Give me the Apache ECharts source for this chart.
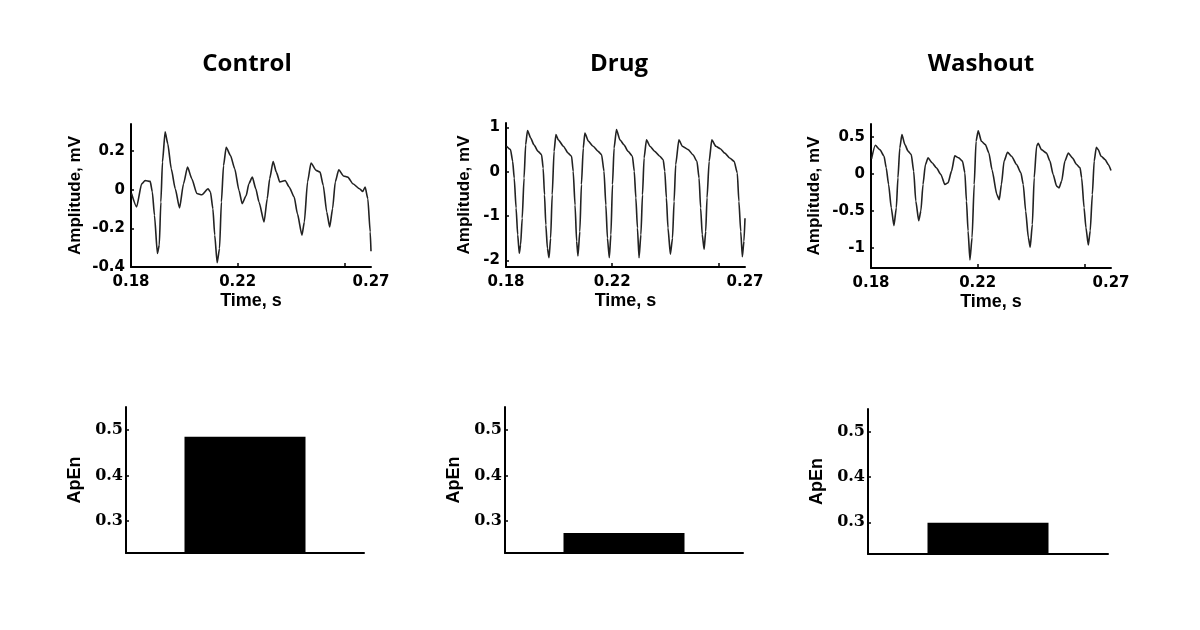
<!DOCTYPE html>
<html>
<head>
<meta charset="utf-8">
<script src="https://cdn.jsdelivr.net/npm/echarts@6/dist/echarts.min.js"></script>
<style>
html,body{margin:0;padding:0;background:#fff;}
#chart{width:1200px;height:630px;}
</style>
</head>
<body>
<div id="chart"></div>
<script>
// ---- Data ----
const panelTitles = ['Control', 'Drug', 'Washout'];

const ctrlTime = [0.1802,0.1821,0.1840,0.1853,0.1872,0.1880,0.1888,0.1899,0.1906,0.1912,0.1918,0.1928,0.1938,0.1951,0.1966,0.1982,0.1997,0.2012,0.2028,0.2047,0.2066,0.2089,0.2098,0.2107,0.2114,0.2123,0.2132,0.2139,0.2147,0.2157,0.2173,0.2189,0.2205,0.2217,0.2232,0.2242,0.2255,0.2268,0.2280,0.2299,0.2311,0.2320,0.2333,0.2345,0.2358,0.2378,0.2393,0.2412,0.2424,0.2441,0.2450,0.2462,0.2475,0.2494,0.2509,0.2521,0.2534,0.2545,0.2556,0.2566,0.2579,0.2597,0.2613,0.2632,0.2657,0.2669,0.2678,0.2688,0.2697,0.2700];
const ctrlAmp = [-0.02,-0.089,0.03,0.048,0.043,-0.012,-0.132,-0.33,-0.287,-0.064,0.143,0.30,0.237,0.108,0.005,-0.094,0.031,0.117,0.057,-0.02,-0.026,0.005,-0.012,-0.098,-0.235,-0.378,-0.304,-0.064,0.125,0.22,0.177,0.108,-0.004,-0.072,-0.03,0.031,0.065,0.005,-0.064,-0.167,-0.046,0.057,0.146,0.091,0.040,0.048,0.014,-0.038,-0.124,-0.235,-0.167,0.040,0.138,0.10,0.091,0.022,-0.115,-0.193,-0.098,0.040,0.103,0.071,0.065,0.031,0.005,-0.009,0.014,-0.046,-0.218,-0.318];

const drugTime = [0.1802,0.1817,0.1825,0.1831,0.1838,0.1844,0.1850,0.1855,0.1861,0.1868,0.1874,0.1881,0.1893,0.1905,0.1921,0.1934,0.1940,0.1945,0.1950,0.1956,0.1962,0.1968,0.1974,0.1981,0.1988,0.1997,0.2016,0.2034,0.2047,0.2053,0.2060,0.2066,0.2071,0.2078,0.2084,0.2091,0.2097,0.2110,0.2128,0.2147,0.2160,0.2169,0.2176,0.2182,0.2189,0.2195,0.2201,0.2207,0.2216,0.2229,0.2244,0.2260,0.2276,0.2283,0.2289,0.2295,0.2301,0.2308,0.2314,0.2320,0.2329,0.2342,0.2360,0.2379,0.2392,0.2398,0.2404,0.2410,0.2419,0.2427,0.2433,0.2439,0.2451,0.2464,0.2486,0.2504,0.2519,0.2527,0.2533,0.2539,0.2546,0.2552,0.2557,0.2565,0.2575,0.2590,0.2607,0.2624,0.2642,0.2659,0.2671,0.2677,0.2684,0.2690,0.2696,0.2700];
const drugAmp = [0.574,0.50,0.235,-0.14,-0.82,-1.42,-1.84,-1.65,-1.05,-0.14,0.61,0.93,0.76,0.61,0.46,0.385,0.08,-0.52,-1.20,-1.73,-1.94,-1.50,-0.52,0.46,0.84,0.72,0.575,0.42,0.35,0.01,-0.75,-1.57,-1.90,-1.35,-0.29,0.535,0.875,0.69,0.575,0.46,0.385,0.01,-0.75,-1.50,-1.94,-1.42,-0.29,0.535,0.95,0.72,0.61,0.46,0.35,0.01,-0.59,-1.27,-1.94,-1.42,-0.52,0.31,0.72,0.575,0.46,0.35,0.27,0.01,-0.59,-1.27,-1.86,-1.50,-0.67,0.16,0.72,0.575,0.50,0.385,0.235,-0.14,-0.82,-1.42,-1.75,-1.35,-0.59,0.235,0.72,0.575,0.52,0.42,0.31,0.235,-0.03,-0.67,-1.35,-1.92,-1.57,-1.05];

const washTime = [0.1802,0.1816,0.1833,0.1849,0.1857,0.1866,0.1876,0.1886,0.1895,0.1901,0.1908,0.1916,0.1927,0.1939,0.1951,0.1960,0.1968,0.1979,0.1987,0.1995,0.2004,0.2014,0.2029,0.2045,0.2062,0.2077,0.2089,0.2102,0.2114,0.2129,0.2143,0.2152,0.2158,0.2164,0.2171,0.2179,0.2187,0.2194,0.2202,0.2214,0.2229,0.2242,0.2254,0.2272,0.2281,0.2289,0.2299,0.2312,0.2327,0.2346,0.2362,0.2371,0.2380,0.2390,0.2397,0.2405,0.2412,0.2421,0.2427,0.2439,0.2458,0.2471,0.2483,0.2496,0.2505,0.2515,0.2527,0.2540,0.2555,0.2571,0.2584,0.2590,0.2599,0.2606,0.2615,0.2622,0.2630,0.2637,0.2645,0.2652,0.2663,0.2678,0.2690,0.2700];
const washAmp = [0.2,0.384,0.325,0.236,0.08,-0.145,-0.458,-0.70,-0.458,-0.055,0.348,0.527,0.392,0.304,0.258,0.035,-0.368,-0.633,-0.503,-0.145,0.124,0.214,0.147,0.08,-0.01,-0.145,-0.122,0.035,0.24,0.214,0.17,0.012,-0.368,-0.77,-1.16,-0.86,-0.145,0.438,0.58,0.438,0.392,0.28,0.05,-0.28,-0.35,-0.145,0.17,0.29,0.236,0.124,0.012,-0.145,-0.503,-0.86,-0.99,-0.683,-0.055,0.37,0.41,0.325,0.28,0.17,-0.01,-0.167,-0.19,-0.1,0.17,0.28,0.214,0.124,0.08,-0.055,-0.458,-0.727,-0.96,-0.77,-0.28,0.17,0.357,0.325,0.236,0.19,0.124,0.043];

const apEn = [0.485, 0.274, 0.299];

const timeTickLabels = [0.18, 0.22, 0.27];
const timeTickMarks = [0.22, 0.26];
const ctrlAmpTicks = [-0.4, -0.2, 0, 0.2];
const drugAmpTicks = [-2, -1, 0, 1];
const washAmpTicks = [-1, -0.5, 0, 0.5];
const apEnTicks = [0.3, 0.4, 0.5];

// ---- Layout ----
const waveGrids = [
  {left: 131, top: 124, width: 240, height: 143},
  {left: 506, top: 123, width: 239, height: 144},
  {left: 871, top: 124, width: 240, height: 144}
];
const barGrids = [
  {left: 126, top: 407, width: 238, height: 146},
  {left: 505, top: 407, width: 238, height: 146},
  {left: 868, top: 409, width: 240, height: 145}
];
const waveRanges = [[-0.4, 0.34], [-2.15, 1.1], [-1.27, 0.67]];
const waveTicks = [ctrlAmpTicks, drugAmpTicks, washAmpTicks];
const waveNameGaps = [47, 33, 48];
const waveSeries = [[ctrlTime, ctrlAmp], [drugTime, drugAmp], [washTime, washAmp]];
const titleX = [242, 614, 976];

const axisLineStyle = {color: '#000', width: 2};
const sansBold = {fontFamily: 'DejaVu Sans', fontWeight: 'bold', fontSize: 15, color: '#000'};
const nameStyle = {fontFamily: 'Liberation Sans', fontWeight: 'bold', fontSize: 17, color: '#000'};

const grid = [], xAxis = [], yAxis = [], series = [], title = [];

for (let i = 0; i < 3; i++) {
  title.push({
    text: panelTitles[i], left: titleX[i], top: 47, textAlign: 'center',
    textStyle: {fontFamily: 'Open Sans', fontWeight: 'bold', fontSize: 24, color: '#000'}
  });
  grid.push(waveGrids[i]);
  xAxis.push({
    type: 'value', gridIndex: i, min: 0.18, max: 0.27,
    name: 'Time, s', nameLocation: 'middle', nameGap: 25,
    nameTextStyle: Object.assign({}, nameStyle, {fontSize: 18}),
    axisLine: {show: true, onZero: false, lineStyle: axisLineStyle},
    axisTick: {show: true, inside: true, length: 4, customValues: timeTickMarks, lineStyle: {color: '#000', width: 1.5}},
    axisLabel: {customValues: timeTickLabels, margin: 8, ...sansBold},
    splitLine: {show: false}
  });
  yAxis.push({
    type: 'value', gridIndex: i, min: waveRanges[i][0], max: waveRanges[i][1],
    name: 'Amplitude, mV', nameLocation: 'middle', nameGap: waveNameGaps[i],
    nameTextStyle: nameStyle,
    axisLine: {show: true, onZero: false, lineStyle: axisLineStyle},
    axisTick: {show: true, inside: true, length: 3, customValues: waveTicks[i], lineStyle: {color: '#000', width: 1.5}},
    axisLabel: {customValues: waveTicks[i], margin: 6, ...sansBold},
    splitLine: {show: false}
  });
  const t = waveSeries[i][0], v = waveSeries[i][1];
  series.push({
    type: 'line', xAxisIndex: i, yAxisIndex: i,
    data: t.map((x, k) => [x, v[k]]),
    showSymbol: false, smooth: 0.2, smoothMonotone: 'x',
    lineStyle: {color: '#222', width: 1.6},
    animation: false
  });
}

for (let i = 0; i < 3; i++) {
  const gi = 3 + i;
  grid.push(barGrids[i]);
  xAxis.push({
    type: 'category', gridIndex: gi, data: [panelTitles[i]],
    axisLine: {show: true, onZero: false, lineStyle: axisLineStyle},
    axisTick: {show: false}, axisLabel: {show: false}, splitLine: {show: false}
  });
  yAxis.push({
    type: 'value', gridIndex: gi, min: 0.23, max: 0.55,
    name: 'ApEn', nameLocation: 'middle', nameGap: 42,
    nameTextStyle: Object.assign({}, nameStyle, {fontSize: 18}),
    axisLine: {show: true, onZero: false, lineStyle: axisLineStyle},
    axisTick: {show: true, inside: true, length: 3, customValues: apEnTicks, lineStyle: {color: '#000', width: 1.5}},
    axisLabel: {customValues: apEnTicks, margin: 3, fontFamily: 'DejaVu Serif', fontWeight: 'bold', fontSize: 16, color: '#000'},
    splitLine: {show: false}
  });
  series.push({
    type: 'bar', xAxisIndex: gi, yAxisIndex: gi,
    data: [apEn[i]], barWidth: 121,
    itemStyle: {color: '#000'}, animation: false
  });
}

const chart = echarts.init(document.getElementById('chart'));
chart.setOption({backgroundColor: '#fff', animation: false, title, grid, xAxis, yAxis, series});
</script>
</body>
</html>
